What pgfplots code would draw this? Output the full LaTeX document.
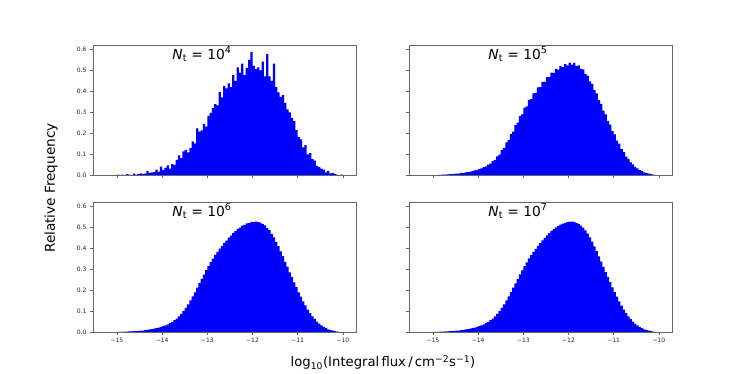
\documentclass[border=0pt]{standalone}
\usepackage{fontspec}
\setmainfont{DejaVu Sans}
\usepackage{pgfplots}
\usepackage{pgfplotstable}
\pgfplotsset{compat=1.18}

% bin start, relative frequency for N_t = 10^4 ... 10^7
\pgfplotstableread{
x      n4     n5     n6     n7
-15.00 0.002  0.000  0.000  0.000
-14.95 0.000  0.000  0.001  0.001
-14.90 0.002  0.001  0.001  0.001
-14.85 0.000  0.001  0.002  0.002
-14.80 0.004  0.002  0.002  0.002
-14.75 0.002  0.002  0.003  0.003
-14.70 0.000  0.003  0.003  0.003
-14.65 0.006  0.004  0.004  0.004
-14.60 0.002  0.004  0.004  0.004
-14.55 0.004  0.005  0.005  0.005
-14.50 0.008  0.007  0.006  0.006
-14.45 0.004  0.007  0.007  0.007
-14.40 0.006  0.010  0.009  0.009
-14.35 0.018  0.009  0.010  0.010
-14.30 0.010  0.013  0.012  0.012
-14.25 0.012  0.015  0.014  0.014
-14.20 0.014  0.015  0.016  0.016
-14.15 0.026  0.019  0.018  0.018
-14.10 0.016  0.022  0.021  0.021
-14.05 0.040  0.023  0.024  0.024
-14.00 0.024  0.029  0.028  0.028
-13.95 0.034  0.031  0.032  0.032
-13.90 0.046  0.038  0.036  0.036
-13.85 0.030  0.041  0.042  0.042
-13.80 0.052  0.050  0.048  0.048
-13.75 0.048  0.054  0.056  0.056
-13.70 0.072  0.066  0.064  0.064
-13.65 0.094  0.072  0.074  0.074
-13.60 0.080  0.089  0.086  0.086
-13.55 0.112  0.097  0.100  0.100
-13.50 0.120  0.118  0.115  0.115
-13.45 0.108  0.129  0.132  0.132
-13.40 0.128  0.155  0.151  0.150
-13.35 0.160  0.166  0.170  0.170
-13.30 0.150  0.195  0.189  0.190
-13.25 0.222  0.207  0.211  0.211
-13.20 0.206  0.238  0.233  0.232
-13.15 0.212  0.249  0.253  0.253
-13.10 0.244  0.280  0.273  0.274
-13.05 0.230  0.289  0.295  0.294
-13.00 0.282  0.321  0.314  0.314
-12.95 0.296  0.327  0.333  0.332
-12.90 0.318  0.356  0.349  0.350
-12.85 0.338  0.361  0.367  0.366
-12.80 0.332  0.389  0.381  0.382
-12.75 0.396  0.391  0.397  0.396
-12.70 0.370  0.417  0.409  0.410
-12.65 0.424  0.418  0.424  0.423
-12.60 0.412  0.443  0.435  0.436
-12.55 0.436  0.444  0.449  0.448
-12.50 0.418  0.467  0.459  0.460
-12.45 0.476  0.466  0.472  0.471
-12.40 0.448  0.488  0.480  0.481
-12.35 0.512  0.486  0.491  0.490
-12.30 0.488  0.505  0.497  0.498
-12.25 0.530  0.502  0.506  0.505
-12.20 0.476  0.519  0.510  0.511
-12.15 0.510  0.514  0.517  0.516
-12.10 0.548  0.528  0.519  0.520
-12.05 0.586  0.522  0.524  0.523
-12.00 0.520  0.535  0.524  0.525
-11.95 0.504  0.526  0.526  0.525
-11.90 0.512  0.534  0.523  0.524
-11.85 0.498  0.518  0.521  0.520
-11.80 0.540  0.522  0.514  0.515
-11.75 0.470  0.505  0.508  0.507
-11.70 0.576  0.503  0.496  0.497
-11.65 0.470  0.481  0.485  0.484
-11.60 0.448  0.473  0.467  0.468
-11.55 0.530  0.446  0.451  0.450
-11.50 0.420  0.434  0.429  0.430
-11.45 0.394  0.404  0.409  0.408
-11.40 0.372  0.389  0.384  0.385
-11.35 0.380  0.356  0.361  0.360
-11.30 0.344  0.339  0.334  0.335
-11.25 0.312  0.306  0.311  0.310
-11.20 0.298  0.289  0.284  0.285
-11.15 0.272  0.257  0.262  0.261
-11.10 0.256  0.240  0.236  0.237
-11.05 0.214  0.209  0.214  0.213
-11.00 0.180  0.193  0.189  0.190
-10.95 0.170  0.164  0.168  0.168
-10.90 0.132  0.149  0.146  0.146
-10.85 0.142  0.123  0.127  0.126
-10.80 0.098  0.109  0.106  0.107
-10.75 0.104  0.087  0.090  0.090
-10.70 0.076  0.077  0.075  0.075
-10.65 0.068  0.060  0.062  0.062
-10.60 0.044  0.051  0.050  0.050
-10.55 0.038  0.039  0.040  0.040
-10.50 0.030  0.032  0.031  0.031
-10.45 0.026  0.023  0.024  0.024
-10.40 0.012  0.018  0.018  0.018
-10.35 0.020  0.013  0.013  0.013
-10.30 0.008  0.009  0.009  0.009
-10.25 0.010  0.006  0.006  0.006
-10.20 0.004  0.004  0.004  0.004
-10.15 0.002  0.002  0.002  0.002
-10.10 0.000  0.001  0.001  0.001
-10.05 0.002  0.000  0.000  0.000
-10.00 0.000  0.000  0.000  0.000
}\hist

\pgfplotsset{
  panel/.style={
    scale only axis, width=263pt, height=130pt,
    xmin=-15.53, xmax=-9.71, ymin=0, ymax=0.619,
    xtick={-15,-14,-13,-12,-11,-10},
    xticklabels={−15,−14,−13,−12,−11,−10},
    ytick={0,0.1,0.2,0.3,0.4,0.5,0.6},
    tick align=outside, major tick length=3pt,
    xtick pos=bottom, ytick pos=left,
    axis on top,
    axis line style={black!60, line width=0.6pt},
    tick style={black!60, line width=0.5pt},
    tick label style={font=\fontsize{6}{7}\selectfont, text=black!85},
    /pgf/number format/assume math mode=true,
    yticklabel style={/pgf/number format/.cd, fixed, fixed zerofill, precision=1},
  },
  hist/.style={const plot, fill=blue, draw=none},
}
\tikzset{ttl/.style={anchor=base west, font=\fontsize{13.8}{16}\selectfont}}

\begin{document}
\begin{tikzpicture}
\useasboundingbox (0,0) rectangle (747pt,373pt);

\begin{axis}[panel, at={(93pt,198pt)}, anchor=south west, xticklabels={}]
\addplot[hist] table[x=x, y=n4] {\hist} \closedcycle;
\node[ttl] at (axis cs:-13.85,0.552) {\textit{N}\textsubscript{t} = 10\textsuperscript{4}};
\end{axis}

\begin{axis}[panel, at={(409pt,198pt)}, anchor=south west, xticklabels={}, yticklabels={}]
\addplot[hist] table[x=x, y=n5] {\hist} \closedcycle;
\node[ttl] at (axis cs:-13.85,0.552) {\textit{N}\textsubscript{t} = 10\textsuperscript{5}};
\end{axis}

\begin{axis}[panel, at={(93pt,41pt)}, anchor=south west]
\addplot[hist] table[x=x, y=n6] {\hist} \closedcycle;
\node[ttl] at (axis cs:-13.85,0.552) {\textit{N}\textsubscript{t} = 10\textsuperscript{6}};
\end{axis}

\begin{axis}[panel, at={(409pt,41pt)}, anchor=south west, yticklabels={}]
\addplot[hist] table[x=x, y=n7] {\hist} \closedcycle;
\node[ttl] at (axis cs:-13.85,0.552) {\textit{N}\textsubscript{t} = 10\textsuperscript{7}};
\end{axis}

\node[rotate=90, font=\fontsize{13.6}{16}\selectfont] at (51pt,185pt) {Relative Frequency};
\node[anchor=base, font=\fontsize{13.2}{16}\selectfont] at (383pt,6.5pt)
  {log\textsubscript{10}(Integral\,flux\,/\,cm\textsuperscript{−2}s\textsuperscript{−1})};
\end{tikzpicture}
\end{document}
